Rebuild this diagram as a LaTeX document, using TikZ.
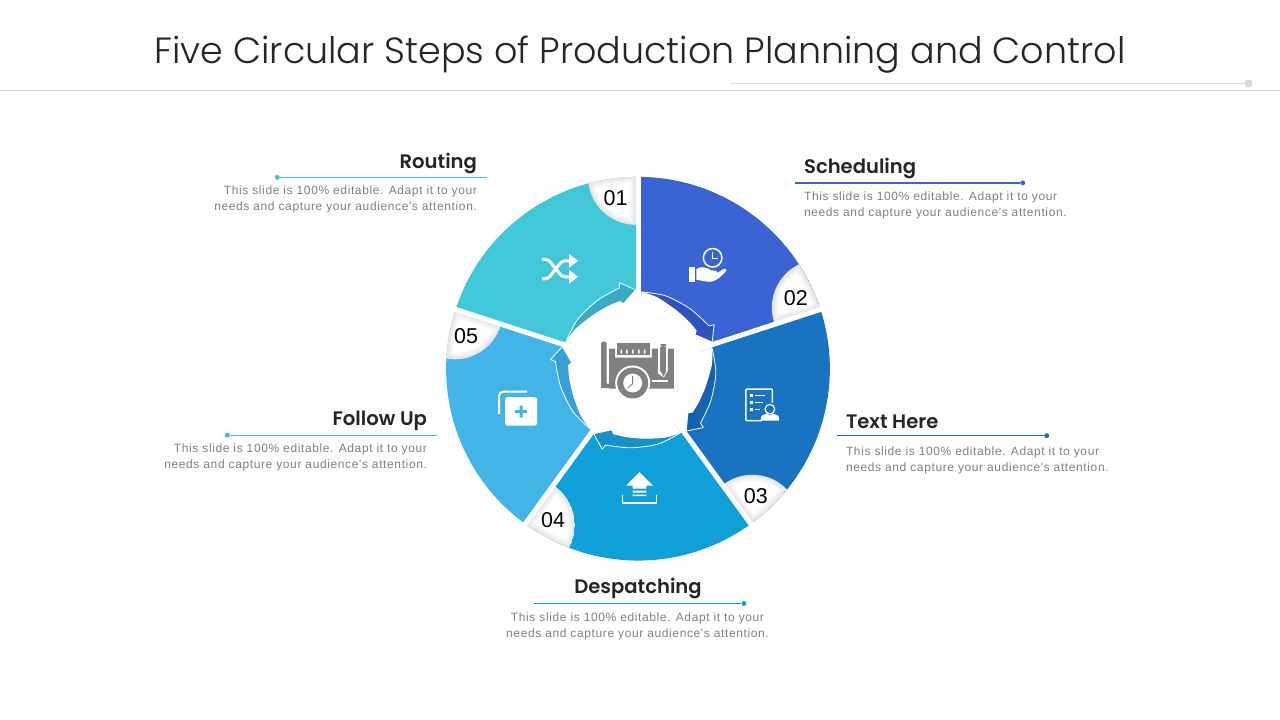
\documentclass[tikz,border=0pt]{standalone}
\usepackage{fontspec}
\setmainfont{Liberation Sans}
\newfontfamily\titlefont[UprightFont=* Light]{Poppins}
\newfontfamily\headfont[UprightFont=* SemiBold]{Poppins}
\newfontfamily\bodyfont[LetterSpace=5.2]{Liberation Sans}
\definecolor{segA}{HTML}{41C7D8}
\definecolor{segB}{HTML}{3A64D3}
\definecolor{segC}{HTML}{1A73C1}
\definecolor{segD}{HTML}{0FA0D8}
\definecolor{segE}{HTML}{43B4E6}
\definecolor{arrA}{HTML}{39ABC6}
\definecolor{arrB}{HTML}{2E52C2}
\definecolor{arrC}{HTML}{1562AE}
\definecolor{arrD}{HTML}{178FCB}
\definecolor{arrE}{HTML}{399FD6}
\definecolor{iconGrey}{HTML}{808080}
\definecolor{rule}{HTML}{D9D9D9}
\tikzset{
  pxframe/.style={x=1pt,y=-1pt,shift={(-638pt,369pt)}},
  head/.style={font=\headfont\fontsize{19.6}{24}\selectfont,text=black!85,inner sep=0pt},
  body/.style={font=\bodyfont\fontsize{12}{16}\selectfont,text=black!50,inner sep=0pt},
  num/.style={font=\fontsize{21.5}{24}\selectfont,text=black,inner sep=0pt},
  tick/.style={circle,inner sep=0pt,minimum size=5pt},
  iconline/.style={draw=white,line width=1.5pt},
}
\newcommand{\badgepath}{(-2,192) -- (-2,144) arc[start angle=270,end angle=187.8,radius=48] arc[start angle=104.96,end angle=90.6,radius=192] -- cycle}
\begin{document}
\begin{tikzpicture}[x=1pt,y=1pt]
\begin{scope}[pxframe]
\useasboundingbox (0,0) rectangle (1280,720);
\fill[white] (0,0) rectangle (1280,720);
\end{scope}
% wheel
\foreach \k/\c in {0/segA,1/segB,2/segC,3/segD,4/segE}{
  \begin{scope}[rotate=-72*\k]
    \fill[\c] (0,0) -- (90:192) arc[start angle=90,end angle=162,radius=192] -- cycle;
    \begin{scope}
      \clip \badgepath;
      \fill[white] \badgepath;
      \foreach \w in {12,9,6,3}{\draw[black!35!white,opacity=.07,line width=\w pt] \badgepath;}
    \end{scope}
  \end{scope}
}
\foreach \k in {0,...,4}{
  \draw[white,line width=5pt,rotate=-72*\k] (0,0) -- (90:194);
}
\foreach \k/\d in {0/arrA,1/arrB,2/arrC,3/arrD,4/arrE}{
  \begin{scope}[rotate=-72*\k]
    \fill[\d] plot[smooth] coordinates {(159.4:77) (141:78) (120.7:79.5) (103:83)} -- (102:88) -- (92:79) -- (102.8:67) -- (105:70) -- plot[smooth] coordinates {(105:70) (115:69.5) (129:70) (147:74) (159.4:77)} -- cycle;
    \fill[white] (0,0) -- plot[smooth] coordinates {(159.4:77) (147:74) (129:70) (115:69.5) (105:70)} -- (102.8:67) -- (92:79) -- (87.4:77) -- cycle;
    \draw[white,line width=.8pt,line join=round] plot[smooth] coordinates {(159.4:77) (141:78) (120.7:79.5) (103:83)} -- (102:88) -- (92:79);
  \end{scope}
}
\fill[white] (0,0) circle (64);
\foreach \k in {0,...,4}{
  \draw[white,line width=3pt,rotate=-72*\k] (0,0) -- (90:76);
}
\begin{scope}[pxframe]
% title
\node[font=\titlefont\fontsize{36.5}{44}\selectfont,text=black!85,inner sep=0pt] (title) at (640,54.5) {Five Circular Steps of Production Planning and Control};
\coordinate (hruleL) at (0,90.5);
\coordinate (hruleR) at (1280,90.5);
\draw[draw=rule,line width=1pt] (hruleL) -- (hruleR);
\node[circle,fill=rule,inner sep=0pt,minimum size=8pt] (titledot) at (1249,83.5) {};
\coordinate (titlerule) at (730,83.5);
\draw[draw=rule,line width=1pt] (titlerule) -- (titledot);
% numbers
\node[num] (n1) at (615.5,198) {01};
\node[num] (n2) at (796,298) {02};
\node[num] (n3) at (756,496) {03};
\node[num] (n4) at (553,521) {04};
\node[num] (n5) at (466,336) {05};
% routing
\node[head,anchor=east] (h1) at (477,164) {Routing};
\node[tick,fill=segA] (d1) at (277,177.5) {};
\coordinate (e1) at (487,177.5);
\draw[draw=segA,line width=1.3pt] (d1) -- (e1);
\node[body,anchor=north east,align=right] (b1) at (477,185.5) {This slide is 100\% editable. Adapt it to your\\needs and capture your audience's attention.};
% scheduling
\node[head,anchor=west] (h2) at (804,169) {Scheduling};
\node[tick,fill=segB] (d2) at (1023,183) {};
\coordinate (e2) at (795,183);
\draw[draw=segB,line width=1.3pt] (e2) -- (d2);
\node[body,anchor=north west,align=left] (b2) at (804,191.5) {This slide is 100\% editable. Adapt it to your\\needs and capture your audience's attention.};
% text here
\node[head,anchor=west] (h3) at (846,422) {Text Here};
\node[tick,fill=segC] (d3) at (1047,436) {};
\coordinate (e3) at (837,436);
\draw[draw=segC,line width=1.3pt] (e3) -- (d3);
\node[body,anchor=north west,align=left] (b3) at (846,446.5) {This slide is 100\% editable. Adapt it to your\\needs and capture your audience's attention.};
% despatching
\node[head] (h4) at (638,589) {Despatching};
\node[tick,fill=segD] (d4) at (744,604) {};
\coordinate (e4) at (534,604);
\draw[draw=segD,line width=1.3pt] (e4) -- (d4);
\node[body,anchor=north,align=center] (b4) at (637.5,613.5) {This slide is 100\% editable. Adapt it to your\\needs and capture your audience's attention.};
% follow up
\node[head,anchor=east] (h5) at (427,421) {Follow Up};
\node[tick,fill=segE] (d5) at (227,435.5) {};
\coordinate (e5) at (437,435.5);
\draw[draw=segE,line width=1.3pt] (d5) -- (e5);
\node[body,anchor=north east,align=right] (b5) at (427,443.5) {This slide is 100\% editable. Adapt it to your\\needs and capture your audience's attention.};
% shuffle icon
\draw[white,line width=3pt,rounded corners=3pt] (542,259.5) -- (548,259.5) -- (562,277) -- (571,277);
\draw[white,line width=3pt,rounded corners=3pt] (542,279) -- (548,279) -- (562,261) -- (571,261);
\fill[white] (569,254) -- (578,261) -- (569,268) -- cycle;
\fill[white] (569,270) -- (578,277) -- (569,284) -- cycle;
% hand and clock icon
\draw[white,line width=1.5pt] (712.7,258) circle (9.3);
\draw[white,line width=1.1pt] (712.7,252) -- (712.7,258.5) -- (718,258.5);
\fill[white] (689,267) rectangle (695,282);
\fill[white] (696.5,269) .. controls (702,266) and (707,268) .. (711,270.5) -- (716,271) .. controls (718,272) and (718,273.5) .. (716,274) -- (709,274.5) -- (717,273.5) -- (723,269.5) .. controls (726,268) and (727.5,270) .. (725.5,272) .. controls (720,278) and (714,283) .. (708,282) -- (696.5,280) -- cycle;
% checklist person icon
\draw[iconline,rounded corners=.8pt] (762,421) -- (746,421) -- (746,389.5) -- (772.5,389.5) -- (772.5,403);
\draw[white,line width=1.1pt] (755,396) -- (765,396) (755,403) -- (763,403) (755,410) -- (760,410);
\fill[white] (750,394.5) rectangle (753,397.5) (750,401.5) rectangle (753,404.5) (750,408.5) rectangle (753,411.5);
\draw[white,line width=1.2pt] (770,409.5) circle (4.8);
\fill[white] (761,421) -- (761,418) .. controls (761,415.5) and (765,414.5) .. (767,414) -- (770,416) -- (773,414) .. controls (775,414.5) and (779,415.5) .. (779,418) -- (779,421) -- cycle;
% upload icon
\fill[white] (639.5,472.5) -- (653,486) -- (646.5,486) -- (646.5,489) -- (632.5,489) -- (632.5,486) -- (626,486) -- cycle;
\fill[white] (632.5,491) rectangle (646.5,493) (632.5,495) rectangle (646.5,496.5);
\draw[white,line width=1.8pt] (622.5,495) -- (622.5,503) -- (656.5,503) -- (656.5,495);
% follow-up icon
\fill[white,rounded corners=2.5pt] (505,397.5) rectangle (537,426);
\draw[white,line width=2pt,rounded corners=4pt] (527,392) -- (499,392) -- (499,414.5);
\fill[segE] (519.5,406) rectangle (522.5,418) (515,410.5) rectangle (527,413.5);
% central blueprint icon
\fill[iconGrey] (601,344) .. controls (601,341) and (606.5,341) .. (606.5,344) -- (606.5,384) -- (621,384) -- (621,388.5) -- (601,388.5) -- cycle;
\fill[iconGrey] (609,349) -- (615,349) -- (615,358) -- (652,358) -- (652,349) -- (658,349) -- (658,374) -- (664,378) -- (668,371) -- (668,349) -- (674,349) -- (674,389) -- (609,389) -- cycle;
\fill[iconGrey] (617,343) rectangle (650,355);
\fill[white] (620.5,350) rectangle (622,354) (626,350) rectangle (627.5,354) (632,350) rectangle (633.5,354) (638,350) rectangle (639.5,354) (644,350) rectangle (645.5,354);
\fill[iconGrey] (660.5,347) rectangle (666.5,371);
\fill[iconGrey] (660.5,371) -- (666.5,371) -- (663.5,377) -- cycle;
\fill[iconGrey] (660.5,344.5) arc[start angle=180,end angle=0,radius=3] -- cycle;
\fill[white] (652,380.5) rectangle (668,382.5);
\fill[white] (632.7,383.3) circle (17.5);
\fill[iconGrey] (632.7,383.3) circle (15.5);
\fill[white] (632.7,383.3) circle (9.5);
\draw[iconGrey,line width=1pt] (632.7,376.5) -- (632.7,384) -- (628,388);
\end{scope}
\end{tikzpicture}
\end{document}
